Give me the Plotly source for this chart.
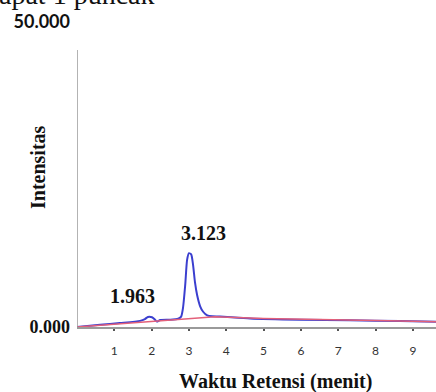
import plotly.graph_objects as go

# Chromatogram (blue) – retention time (min) vs intensity
t_signal = [0.0, 0.62, 1.15, 1.69, 1.82, 1.90, 2.01, 2.09, 2.14, 2.23, 2.49, 2.71, 2.79,
            2.84, 2.90, 2.95, 3.00, 3.06, 3.11, 3.16, 3.22, 3.30, 3.38, 3.49, 3.62, 3.83,
            4.64, 5.98, 7.32, 8.66, 9.62]
i_signal = [0.0, 0.35, 0.65, 1.0, 1.3, 1.65, 1.6, 1.2, 0.9, 1.15, 1.2, 1.35, 1.7,
            3.1, 6.9, 11.0, 12.1, 11.9, 10.2, 7.4, 5.2, 3.4, 2.5, 1.9, 1.75, 1.72,
            1.4, 1.2, 1.1, 0.98, 0.85]

# Baseline (red)
t_base = [0.0, 1.0, 2.0, 3.0, 3.7, 5.0, 6.0, 7.0, 8.0, 9.0, 9.62]
i_base = [0.0, 0.45, 0.9, 1.35, 1.7, 1.4, 1.25, 1.15, 1.05, 0.95, 0.85]

# Peak labels
peak_times = [1.963, 3.123]
peak_heights = [1.65, 12.1]
peak_x = [1.95, 3.02]

x_ticks = [1, 2, 3, 4, 5, 6, 7, 8, 9]
y_ticks = [0, 50]
y_ticktext = ['<b>0.000</b>',
              '<span style="font-family:Lato;font-size:18px;font-weight:700">50.000</span>']

SERIF = "Liberation Serif"

fig = go.Figure()
fig.add_trace(go.Scatter(x=t_signal, y=i_signal, mode="lines",
                         line=dict(color="#3b3fcf", width=2, shape="spline", smoothing=0.6),
                         hoverinfo="skip", showlegend=False))
fig.add_trace(go.Scatter(x=t_base, y=i_base, mode="lines",
                         line=dict(color="#e3607a", width=1.5),
                         hoverinfo="skip", showlegend=False))

# y axis line (drawn only on lower part as in the reference)
fig.add_shape(type="line", xref="x", yref="y", x0=0, x1=0, y0=0, y1=45.4,
              line=dict(color="#9a9a9a", width=1.5))

offsets = [(-17, 21), (14, 20)]
for t, h, px, (dx, dy) in zip(peak_times, peak_heights, peak_x, offsets):
    fig.add_annotation(x=px, y=h, xref="x", yref="y", text=f"<b>{t:.3f}</b>",
                       showarrow=False, xshift=dx, yshift=dy,
                       font=dict(family=SERIF, size=20, color="#111"))

fig.add_annotation(text="<b>Intensitas</b>", xref="paper", yref="paper",
                   x=(38 - 77) / 359, y=(327 - 167) / 305, textangle=-90,
                   xanchor="center", yanchor="middle",
                   showarrow=False, font=dict(family=SERIF, size=20, color="#111"))
fig.add_annotation(text="<b>Waktu Retensi (menit)</b>", xref="paper", yref="paper",
                   x=(275 - 77) / 359, y=(327 - 381) / 305, showarrow=False,
                   xanchor="center", yanchor="middle",
                   font=dict(family=SERIF, size=20, color="#111"))
fig.add_annotation(text="dapat 1 puncak", xref="paper", yref="paper",
                   x=(-17 - 77) / 359, y=(327 - 12) / 305, xanchor="left", yanchor="bottom",
                   showarrow=False, font=dict(family=SERIF, size=28, color="#111"))

fig.update_layout(
    width=436, height=392,
    margin=dict(l=77, r=0, t=22, b=65),
    paper_bgcolor="white", plot_bgcolor="white",
    xaxis=dict(range=[0, 9.62], tickvals=x_ticks, showgrid=False, zeroline=False,
               showline=True, linecolor="#9a9a9a", linewidth=1.5,
               ticks="outside", ticklen=2, tickwidth=2, tickcolor="#555",
               ticklabelstandoff=10,
               tickfont=dict(family="Lato", size=12, color="#333")),
    yaxis=dict(range=[0, 50], tickvals=y_ticks, ticktext=y_ticktext, showgrid=False,
               zeroline=False, showline=False, ticks="", ticklabelstandoff=6,
               tickfont=dict(family=SERIF, size=18, color="#111")),
)

fig.write_html("out.html")
